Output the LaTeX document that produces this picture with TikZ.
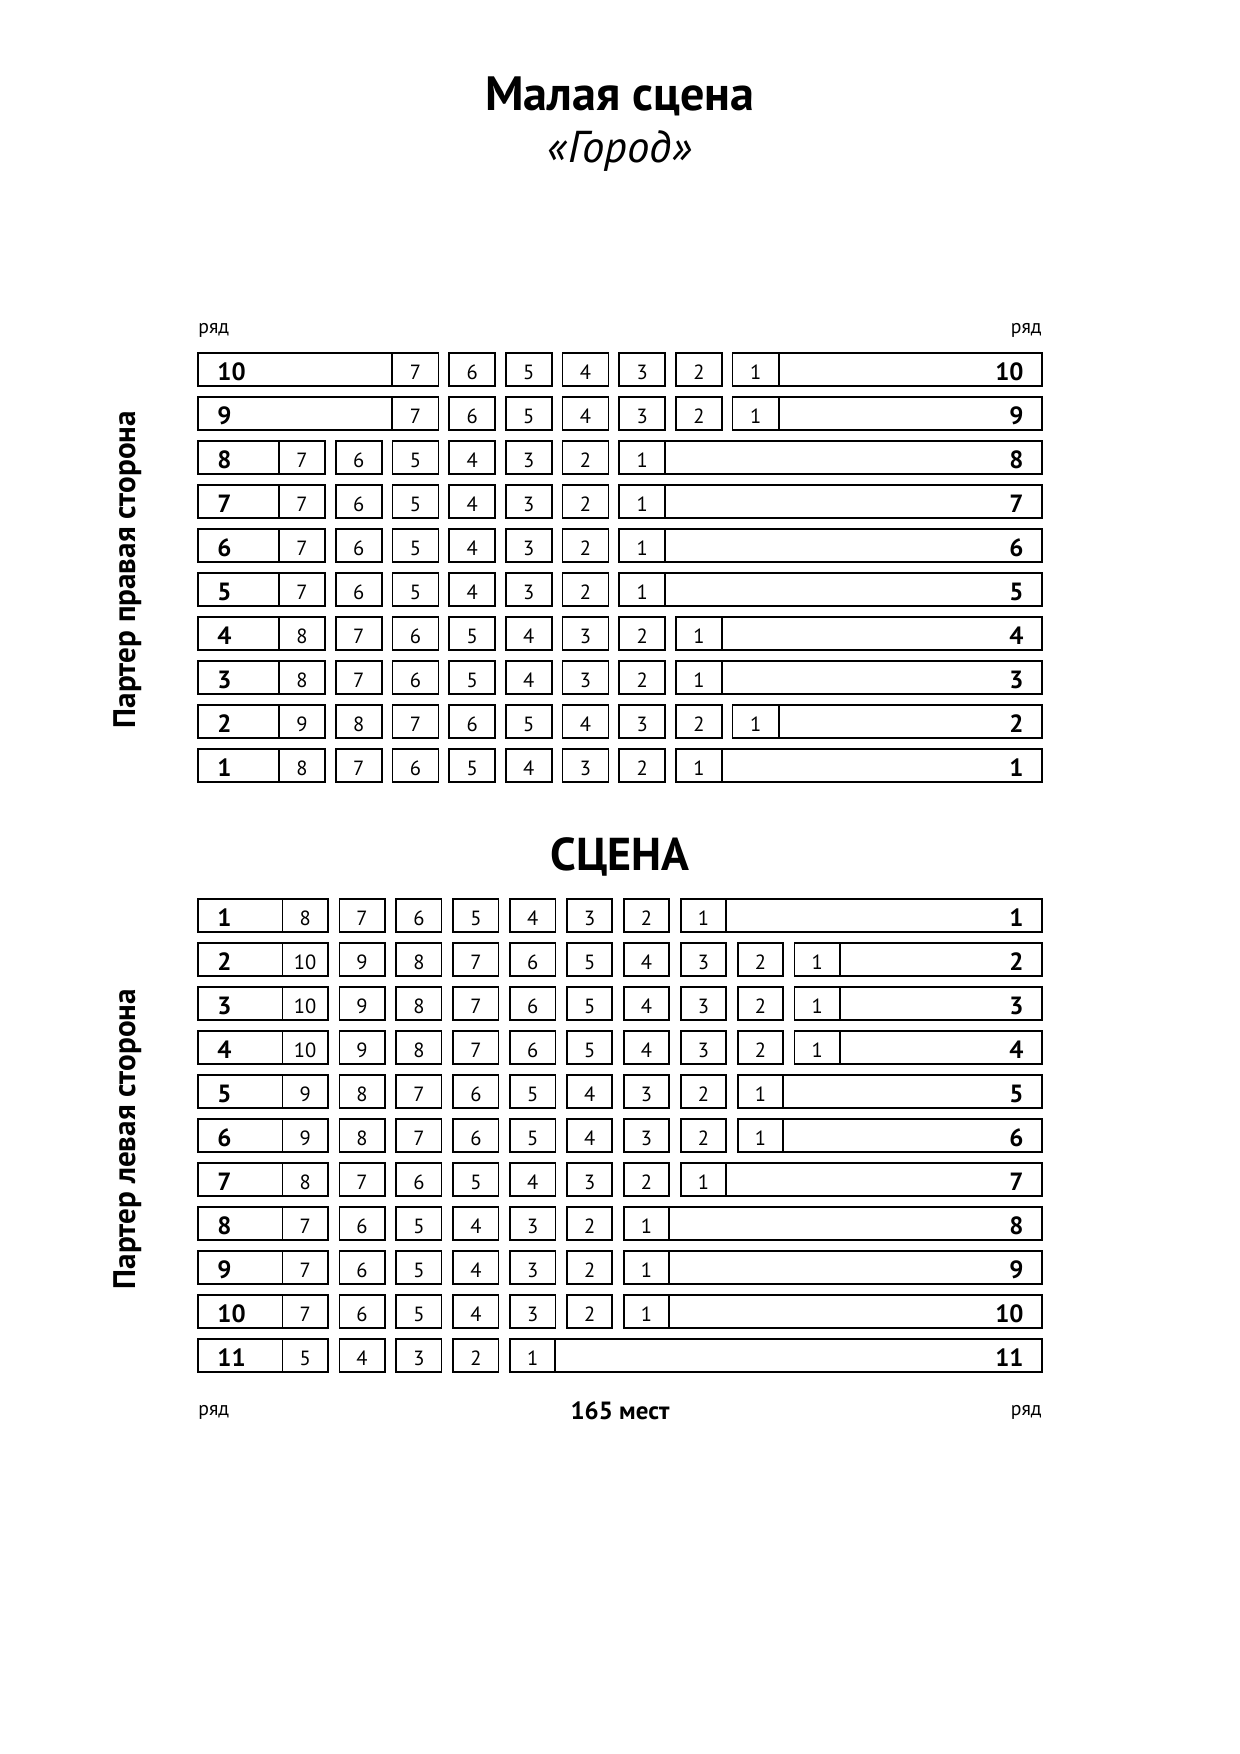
\documentclass[tikz,border=0pt]{standalone}
\usepackage{fontspec}
\setmainfont{PT Sans}
\usetikzlibrary{positioning,calc}

\tikzset{
  rowbar/.style={draw, line width=0.95pt},
  seatbox/.style={draw, line width=0.85pt},
  seatno/.style={inner sep=0pt, anchor=base, font=\fontsize{9.9}{11}\selectfont},
  rowno/.style={inner sep=0pt, font=\fontsize{12}{13}\selectfont\bfseries},
  ryad/.style={inner sep=0pt, font=\fontsize{9.5}{11}\selectfont},
  side/.style={inner sep=0pt, anchor=base, rotate=90, font=\fontsize{15}{17}\selectfont\bfseries}
}

\begin{document}
\begin{tikzpicture}[x=0.169355mm, y=-0.169355mm]
\useasboundingbox (0,0) rectangle (1240,1754);

\node[inner sep=0pt, anchor=base, font=\fontsize{23.2}{26}\selectfont\bfseries] (title) at (620,110) {Малая сцена};
\node[inner sep=0pt, anchor=base, font=\fontsize{21.5}{24}\selectfont\itshape] (subtitle) at (620,162.7) {«Город»};

% правая сторона
\node[ryad, anchor=base west] (ryadUL) at (198,333) {ряд};
\node[ryad, anchor=base east] (ryadUR) at (1042,333) {ряд};
\foreach \r/\s/\n [count=\i from 0] in {10/2/7, 9/2/7, 8/0/7, 7/0/7, 6/0/7, 5/0/7, 4/0/8, 3/0/8, 2/0/9, 1/0/8} {
  \pgfmathsetmacro{\ytop}{352.7+44*\i}
  \pgfmathsetmacro{\ybot}{\ytop+33}
  \pgfmathsetmacro{\xa}{279+56.7*\s}
  \pgfmathsetmacro{\xb}{279+56.7*(\s+\n-1)+46}
  \draw[rowbar] (198,\ytop) rectangle (\xa,\ybot);
  \draw[rowbar] (\xb,\ytop) rectangle (1042,\ybot);
  \node[rowno, anchor=base west] (upL\r) at (217,\ytop+27.3) {\r};
  \node[rowno, anchor=base east] (upR\r) at (1024,\ytop+27.3) {\r};
  \foreach \k in {1,...,\n} {
    \pgfmathsetmacro{\xs}{279+56.7*(\s+\n-\k)}
    \draw[seatbox] (\xs,\ytop) rectangle (\xs+46,\ybot);
    \node[seatno] (up-\r-\k) at (\xs+23,\ytop+26.5) {\k};
  }
}
\node[side] (sideR) at (135,569.5) {Партер правая сторона};

\node[inner sep=0pt, anchor=base, font=\fontsize{22.2}{25}\selectfont\bfseries] (stage) at (620,870) {СЦЕНА};

% левая сторона
\foreach \r/\n [count=\i from 0] in {1/8, 2/10, 3/10, 4/10, 5/9, 6/9, 7/8, 8/7, 9/7, 10/7, 11/5} {
  \pgfmathsetmacro{\ytop}{899+44*\i}
  \pgfmathsetmacro{\ybot}{\ytop+33}
  \pgfmathsetmacro{\xb}{282.5+56.9*(\n-1)+45.3}
  \draw[rowbar] (198,\ytop) rectangle (282.5,\ybot);
  \draw[rowbar] (\xb,\ytop) rectangle (1042,\ybot);
  \node[rowno, anchor=base west] (dnL\r) at (217,\ytop+27.3) {\r};
  \node[rowno, anchor=base east] (dnR\r) at (1024,\ytop+27.3) {\r};
  \foreach \k in {1,...,\n} {
    \pgfmathsetmacro{\xs}{282.5+56.9*(\n-\k)}
    \draw[seatbox] (\xs,\ytop) rectangle (\xs+45.3,\ybot);
    \node[seatno] (dn-\r-\k) at (\xs+22.65,\ytop+26.5) {\k};
  }
}
\node[side] (sideL) at (135,1139) {Партер левая сторона};

\node[ryad, anchor=base west] (ryadLL) at (198,1415) {ряд};
\node[ryad, anchor=base east] (ryadLR) at (1042,1415) {ряд};
\node[inner sep=0pt, anchor=base, font=\fontsize{12}{14}\selectfont\bfseries] (total) at (620,1419) {165 мест};
\end{tikzpicture}
\end{document}
